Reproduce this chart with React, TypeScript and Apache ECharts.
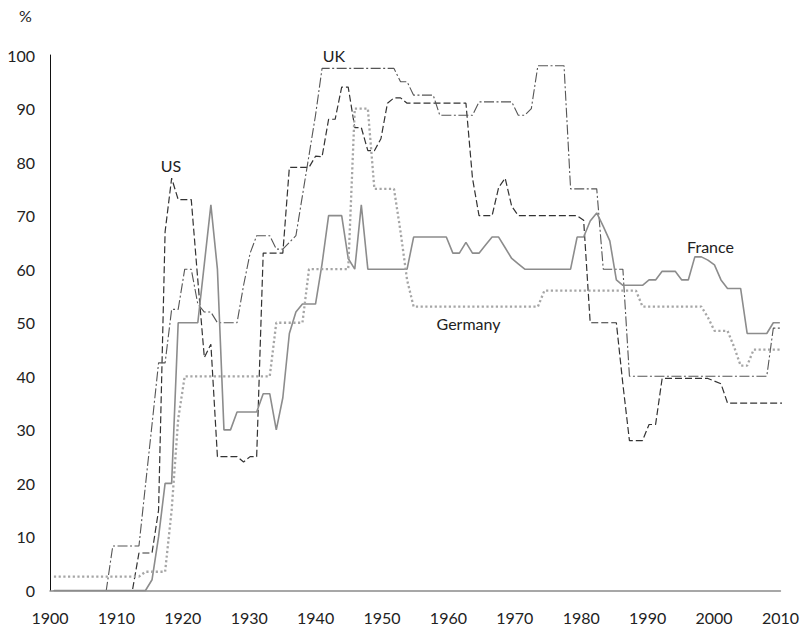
import React, { useEffect, useRef } from "react";
import * as echarts from "echarts";

// Years 1900..2012 (x categories of the data)
const years: number[] = Array.from({ length: 113 }, (_, i) => 1900 + i);

// Top marginal income tax rates (%), one value per year from 1900
const us: number[] = [
  0, 0, 0, 0, 0, 0, 0, 0, 0, 0,
  0, 0, 0, 7, 7, 7, 15, 67, 77, 73,
  73, 73, 58, 43.5, 46, 25, 25, 25, 25, 24,
  25, 25, 63, 63, 63, 63, 79, 79, 79, 79,
  81.1, 81, 88, 88, 94, 94, 86.45, 86.45, 82.13, 82.13,
  84.36, 91, 92, 92, 91, 91, 91, 91, 91, 91,
  91, 91, 91, 91, 77, 70, 70, 70, 75.25, 77,
  71.75, 70, 70, 70, 70, 70, 70, 70, 70, 70,
  70, 69.13, 50, 50, 50, 50, 50, 38.5, 28, 28,
  28, 31, 31, 39.6, 39.6, 39.6, 39.6, 39.6, 39.6, 39.6,
  39.6, 39.1, 38.6, 35, 35, 35, 35, 35, 35, 35,
  35, 35, 35,
];

const uk: number[] = [
  0, 0, 0, 0, 0, 0, 0, 0, 0, 8.3,
  8.3, 8.3, 8.3, 8.3, 19.7, 31, 42.5, 42.5, 52.5, 52.5,
  60, 60, 53.5, 52, 52, 50, 50, 50, 50, 57,
  63, 66.25, 66.25, 66.25, 63.75, 63.75, 65, 66.25, 73.75, 81.25,
  88.75, 97.5, 97.5, 97.5, 97.5, 97.5, 97.5, 97.5, 97.5, 97.5,
  97.5, 97.5, 97.5, 95, 95, 92.5, 92.5, 92.5, 92.5, 88.75,
  88.75, 88.75, 88.75, 88.75, 88.75, 91.25, 91.25, 91.25, 91.25, 91.25,
  91.25, 88.75, 88.75, 90, 98, 98, 98, 98, 98, 75,
  75, 75, 75, 75, 60, 60, 60, 60, 40, 40,
  40, 40, 40, 40, 40, 40, 40, 40, 40, 40,
  40, 40, 40, 40, 40, 40, 40, 40, 40, 40,
  49, 49,
];

const france: number[] = [
  0, 0, 0, 0, 0, 0, 0, 0, 0, 0,
  0, 0, 0, 0, 0, 2, 10, 20, 20, 50,
  50, 50, 50, 61, 72, 60, 30, 30, 33.33, 33.33,
  33.33, 33.33, 36.75, 36.75, 30, 36, 48, 52, 53.5, 53.5,
  53.5, 61, 70, 70, 70, 62, 60, 72, 60, 60,
  60, 60, 60, 60, 60, 66, 66, 66, 66, 66,
  66, 63, 63, 65, 63, 63, 64.5, 66, 66, 64,
  62, 61, 60, 60, 60, 60, 60, 60, 60, 60,
  66, 66, 69, 70.5, 68, 65.3, 58, 57, 57, 57,
  57, 58, 58, 59.6, 59.6, 59.6, 58, 58, 62.3, 62.3,
  61.7, 60.8, 58, 56.4, 56.4, 56.4, 48, 48, 48, 48,
  50, 50,
];

const germany: number[] = [
  2.6, 2.6, 2.6, 2.6, 2.6, 2.6, 2.6, 2.6, 2.6, 2.6,
  2.6, 2.6, 2.6, 2.6, 3.5, 3.5, 3.5, 3.5, 15, 32,
  40, 40, 40, 40, 40, 40, 40, 40, 40, 40,
  40, 40, 40, 40, 50, 50, 50, 50, 50, 60,
  60, 60, 60, 60, 60, 60, 90, 90, 90, 75,
  75, 75, 75, 67, 58, 53, 53, 53, 53, 53,
  53, 53, 53, 53, 53, 53, 53, 53, 53, 53,
  53, 53, 53, 53, 53, 56, 56, 56, 56, 56,
  56, 56, 56, 56, 56, 56, 56, 56, 56, 56,
  53, 53, 53, 53, 53, 53, 53, 53, 53, 53,
  51, 48.5, 48.5, 48.5, 45.5, 42, 42, 45, 45, 45,
  45, 45, 45,
];

const seriesNames = ["US", "UK", "France", "Germany"];
const yTicks = { min: 0, max: 100, interval: 10 };
const xTicks = { min: 1900, max: 2010, interval: 10 };

const FONT = "Lato, 'Open Sans', sans-serif";
const TEXT = "#222";

function pairs(vals: number[]) {
  return vals.map((v, i) => [years[i], v]);
}

function nameLabel(name: string, coord: [number, number]) {
  return {
    symbol: "circle",
    symbolSize: 0,
    silent: true,
    label: {
      show: true,
      position: "inside",
      formatter: "{b}",
      color: TEXT,
      fontSize: 16,
      fontFamily: FONT,
    },
    data: [{ name, coord }],
  };
}

export default function App() {
  const ref = useRef<HTMLDivElement>(null);

  useEffect(() => {
    if (!ref.current) return;
    const chart = echarts.init(ref.current, undefined, { renderer: "svg" });
    const base = {
      type: "line",
      xAxisIndex: 1,
      symbol: "none",
      clip: false,
      silent: true,
    };
    chart.setOption({
      animation: false,
      backgroundColor: "#fff",
      grid: { left: 50, right: 21, top: 55, bottom: 37.5, containLabel: false },
      graphic: [
        {
          type: "text",
          left: 19,
          top: 7,
          style: { text: "%", fontSize: 16, fontFamily: FONT, fill: TEXT },
        },
      ],
      xAxis: [
        {
          type: "value",
          min: xTicks.min,
          max: xTicks.max,
          interval: xTicks.interval,
          axisLine: { show: true, lineStyle: { color: "#8a8a8a", width: 1.5 } },
          axisTick: { show: false },
          splitLine: { show: false },
          axisLabel: {
            color: TEXT,
            fontSize: 16,
            fontFamily: FONT,
            margin: 19,
            formatter: (v: number) => String(v),
          },
        },
        {
          type: "value",
          show: false,
          min: 1899.4,
          max: 2011.09,
          splitLine: { show: false },
        },
      ],
      yAxis: {
        type: "value",
        min: yTicks.min,
        max: yTicks.max,
        interval: yTicks.interval,
        axisLine: { show: true, lineStyle: { color: "#111", width: 1 } },
        axisTick: { show: false },
        splitLine: { show: false },
        axisLabel: { color: TEXT, fontSize: 16, fontFamily: FONT, margin: 15 },
      },
      series: [
        {
          ...base,
          name: seriesNames[0],
          data: pairs(us),
          lineStyle: { color: "#333", width: 1.2, type: [7, 3] },
          markPoint: nameLabel("US", [1917.9, 79.3]),
        },
        {
          ...base,
          name: seriesNames[1],
          data: pairs(uk),
          lineStyle: { color: "#555", width: 1.1, type: [10, 2.5, 2, 2.5] },
          markPoint: nameLabel("UK", [1942.8, 100]),
        },
        {
          ...base,
          name: seriesNames[2],
          data: pairs(france),
          lineStyle: { color: "#8c8c8c", width: 1.6, type: "solid" },
          markPoint: nameLabel("France", [2000.4, 64.3]),
        },
        {
          ...base,
          name: seriesNames[3],
          data: pairs(germany),
          lineStyle: { color: "#a6a6a6", width: 2.3, type: [2.2, 2.5] },
          markPoint: nameLabel("Germany", [1963.4, 49.9]),
        },
      ],
    });
    return () => chart.dispose();
  }, []);

  return (
    <div
      ref={ref}
      style={{ position: "fixed", left: 0, top: 0, width: 802, height: 628 }}
    />
  );
}
